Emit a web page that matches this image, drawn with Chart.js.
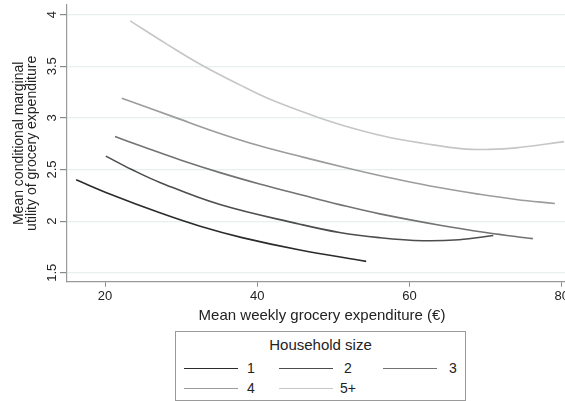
<!DOCTYPE html>
<html>
<head>
<meta charset="utf-8">
<script src="https://cdn.jsdelivr.net/npm/chart.js@4.4.1/dist/chart.umd.min.js"></script>
<style>
  html, body { margin: 0; padding: 0; background: #fff; overflow: hidden; }
  #wrap { position: relative; width: 565px; height: 401px; overflow: hidden; }
  #chart { position: absolute; left: 0; top: 0; }
  .legend {
    position: absolute; left: 175px; top: 331px; width: 291px; height: 70px;
    border: 1px solid #9a9a9a; box-sizing: border-box; background: #fff;
    font-family: "Liberation Sans", Arial, sans-serif; color: #222; font-size: 14px;
  }
  .legend .ttl { position: absolute; left: 0; width: 100%; top: 4px; text-align: center; font-size: 15px; }
  .legend .ln { position: absolute; width: 54px; height: 0; }
  .legend .lb { position: absolute; width: 24px; margin-left: -12px; text-align: center; line-height: 14px; }
</style>
</head>
<body>
<div id="wrap">
  <canvas id="chart" width="590" height="401"></canvas>
  <div class="legend" id="legend"><div class="ttl">Household size</div></div>
</div>
<script>
// household size curves
const sizes = ["1", "2", "3", "4", "5+"]
const colors = ["#2b2b2b", "#4d4d4d", "#737373", "#9c9c9c", "#c6c6c6"]

const hh1X = [16.2, 20.7, 27.2, 32.5, 38.0, 45.6, 54.3]
const hh1Y = [2.40, 2.26, 2.08, 1.95, 1.84, 1.72, 1.61]

const hh2X = [20.1, 23.5, 27.2, 35.1, 45.6, 50.8, 56.0, 61.8, 66.5, 71.0]
const hh2Y = [2.63, 2.50, 2.375, 2.16, 1.97, 1.89, 1.84, 1.81, 1.82, 1.86]

const hh3X = [21.3, 25.0, 30.0, 35.1, 40.3, 46.0, 50.8, 56.1, 64.0, 70.0, 76.2]
const hh3Y = [2.82, 2.72, 2.59, 2.47, 2.36, 2.25, 2.16, 2.07, 1.96, 1.89, 1.83]

const hh4X = [22.2, 29.0, 35.1, 40.3, 46.0, 51.5, 57.4, 62.7, 69.2, 74.0, 79.1]
const hh4Y = [3.19, 3.01, 2.85, 2.73, 2.62, 2.52, 2.42, 2.34, 2.26, 2.21, 2.17]

const hh5X = [23.3, 28.0, 32.5, 37.7, 42.0, 48.2, 53.5, 57.4, 61.7, 67.0, 70.5, 74.0, 80.3]
const hh5Y = [3.94, 3.72, 3.52, 3.32, 3.17, 3.00, 2.88, 2.81, 2.755, 2.70, 2.695, 2.71, 2.77]

const xTicks = [20, 40, 60, 80]
const yTicks = [1.5, 2, 2.5, 3, 3.5, 4]

const seriesX = [hh1X, hh2X, hh3X, hh4X, hh5X]
const seriesY = [hh1Y, hh2Y, hh3Y, hh4Y, hh5Y]

const fontFamily = '"Liberation Sans", Arial, sans-serif'
const textColor = "#222"

const datasets = sizes.map((s, i) => ({
    label: s,
    data: seriesX[i].map((x, j) => ({ x: x, y: seriesY[i][j] })),
    borderColor: colors[i],
    borderWidth: 1.6,
    pointRadius: 0,
    fill: false,
    tension: 0.4,
}))

// y tick labels are rotated like in the stata graph
const rotatedYLabels = {
    id: "rotatedYLabels",
    afterDraw(chart) {
        const ctx = chart.ctx
        const scale = chart.scales.y
        ctx.save()
        ctx.font = "13px " + fontFamily
        ctx.fillStyle = textColor
        ctx.textAlign = "center"
        ctx.textBaseline = "middle"
        yTicks.forEach((v) => {
            ctx.save()
            ctx.translate(52, scale.getPixelForValue(v))
            ctx.rotate(-Math.PI / 2)
            ctx.fillText(String(v), 0, 0)
            ctx.restore()
        })
        ctx.restore()
    },
}

new Chart(document.getElementById("chart"), {
    type: "line",
    data: { datasets: datasets },
    plugins: [rotatedYLabels],
    options: {
        responsive: false,
        animation: false,
        layout: { padding: { left: 0, top: 5, right: 13, bottom: 77 } },
        plugins: { legend: { display: false }, tooltip: { enabled: false } },
        scales: {
            x: {
                type: "linear",
                min: 15,
                max: 82,
                afterBuildTicks: (s) => { s.ticks = xTicks.map((v) => ({ value: v })) },
                afterFit: (s) => { s.height = 42.3 },
                grid: { drawOnChartArea: false, tickLength: 5, tickColor: "#8a8a8a" },
                border: { color: "#9a9a9a", width: 1.2 },
                ticks: { font: { family: fontFamily, size: 13 }, color: textColor, padding: 2, maxRotation: 0 },
                title: {
                    display: true,
                    text: "Mean weekly grocery expenditure (€)",
                    font: { family: fontFamily, size: 15, lineHeight: 1.1 },
                    color: textColor,
                    padding: 0,
                },
            },
            y: {
                type: "linear",
                min: 1.413,
                max: 4.094,
                afterBuildTicks: (s) => { s.ticks = yTicks.map((v) => ({ value: v })) },
                afterFit: (s) => { s.width = 67 },
                grid: { color: "#e7f0f0", lineWidth: 1.2, tickLength: 7, tickColor: "#8a8a8a" },
                border: { color: "#9a9a9a", width: 1.2 },
                ticks: { display: false },
                title: {
                    display: true,
                    text: ["Mean conditional marginal", "utility of grocery expenditure"],
                    font: { family: fontFamily, size: 14, lineHeight: 0.93 },
                    color: textColor,
                    padding: { top: 12.5, bottom: 0 },
                },
            },
        },
    },
})

// legend box, three columns like the original
const legendEl = document.getElementById("legend")
const colLine = [8, 103, 207]
const colLabel = [75, 172, 277]
const rowY = [36, 56]
sizes.forEach((s, i) => {
    const col = i % 3
    const row = Math.floor(i / 3)
    const ln = document.createElement("div")
    ln.className = "ln"
    ln.style.left = colLine[col] + "px"
    ln.style.top = rowY[row] + "px"
    ln.style.borderTop = "1.6px solid " + colors[i]
    legendEl.appendChild(ln)
    const lb = document.createElement("div")
    lb.className = "lb"
    lb.style.left = colLabel[col] + "px"
    lb.style.top = rowY[row] - 7 + "px"
    lb.textContent = s
    legendEl.appendChild(lb)
})
</script>
</body>
</html>
